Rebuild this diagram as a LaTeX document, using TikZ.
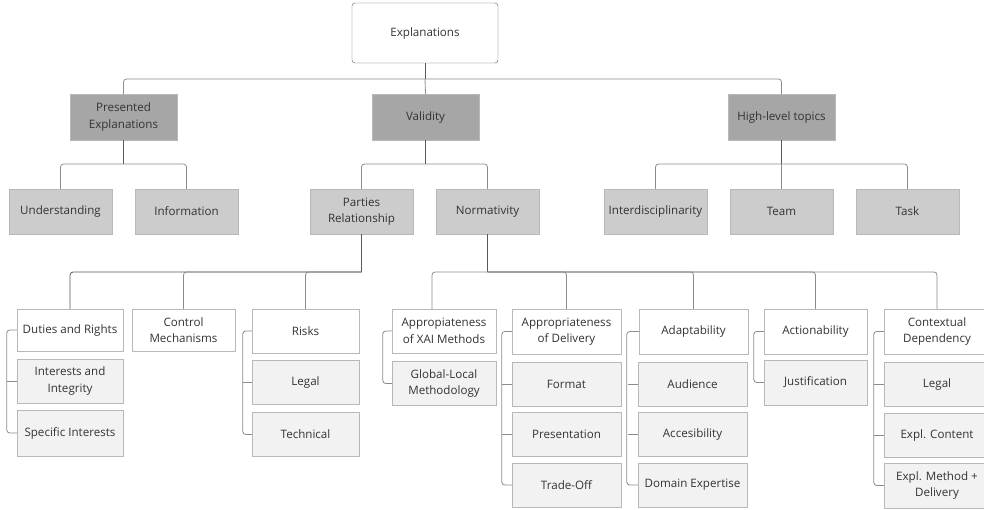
\documentclass[tikz,border=0pt]{standalone}
\usepackage{fontspec}
\setmainfont{Open Sans}
\definecolor{txtgray}{HTML}{333333}
\definecolor{topicgray}{HTML}{A6A6A6}
\definecolor{groupgray}{HTML}{CCCCCC}
\definecolor{subgray}{HTML}{F2F2F2}
\definecolor{edgegray}{HTML}{B8B8B8}
\begin{document}
\begin{tikzpicture}[x=1pt,y=-1pt,
  every node/.style={font=\fontsize{11.6}{16.5}\selectfont, text=txtgray, align=center, inner sep=0pt},
  rootbox/.style={draw=black!65, fill=white, rounded corners=3pt, minimum width=146pt, minimum height=60pt},
  topicbox/.style={draw=edgegray, fill=topicgray, minimum width=107pt, minimum height=46pt},
  groupbox/.style={draw=edgegray, fill=groupgray, minimum width=103pt, minimum height=45pt},
  headbox/.style={draw=edgegray, fill=white, minimum height=44pt},
  subbox/.style={draw=edgegray, fill=subgray, minimum height=44pt},
  stem/.style={draw=black!65, line width=.8pt},
  branch/.style={draw=black!45, line width=.8pt, rounded corners=3pt}]
\useasboundingbox (0,0) rectangle (984,509);
% top
\node[rootbox] (expl) at (425,33) {Explanations};
\node[topicbox] (pres) at (123.5,117) {Presented\\Explanations};
\node[topicbox] (valid) at (425.5,117) {Validity};
\node[topicbox] (high) at (781.5,117) {High-level topics};
\node[groupbox] (under) at (60.5,211.5) {Understanding};
\node[groupbox] (info) at (186.5,211.5) {Information};
\node[groupbox] (parties) at (361.5,211.5) {Parties\\Relationship};
\node[groupbox] (norm) at (487.5,211.5) {Normativity};
\node[groupbox] (inter) at (655.5,211.5) {Interdisciplinarity};
\node[groupbox] (team) at (781.5,211.5) {Team};
\node[groupbox] (task) at (907.5,211.5) {Task};
% parties relationship
\node[headbox, minimum width=106pt, minimum height=42pt] (duties) at (70,330) {Duties and Rights};
\node[subbox, minimum width=106pt] (interests) at (70,381) {Interests and\\Integrity};
\node[subbox, minimum width=106pt, minimum height=46pt] (specific) at (70,433) {Specific Interests};
\node[headbox, minimum width=103pt, minimum height=42pt] (control) at (183.5,330) {Control\\Mechanisms};
\node[headbox, minimum width=107pt] (risks) at (305.5,331) {Risks};
\node[subbox, minimum width=107pt] (legalr) at (305.5,382.5) {Legal};
\node[subbox, minimum width=107pt] (technical) at (305.5,434.5) {Technical};
% normativity
\node[headbox, minimum width=104pt] (xai) at (444,331) {Appropiateness\\of XAI Methods};
\node[subbox, minimum width=104pt] (global) at (444,383.5) {Global-Local\\Methodology};
\node[headbox, minimum width=109pt, minimum height=45pt] (delivery) at (566.5,331.5) {Appropriateness\\of Delivery};
\node[subbox, minimum width=109pt] (format) at (566.5,384) {Format};
\node[subbox, minimum width=109pt] (present) at (566.5,434.5) {Presentation};
\node[subbox, minimum width=109pt] (tradeoff) at (566.5,485) {Trade-Off};
\node[headbox, minimum width=109pt, minimum height=45pt] (adapt) at (693.5,331.5) {Adaptability};
\node[subbox, minimum width=109pt] (audience) at (692.5,384) {Audience};
\node[subbox, minimum width=109pt] (access) at (692.5,434.5) {Accesibility};
\node[subbox, minimum width=109pt] (domain) at (692.5,485) {Domain Expertise};
\node[headbox, minimum width=103pt, minimum height=45pt] (action) at (815.5,331.5) {Actionability};
\node[subbox, minimum width=103pt, minimum height=45pt] (justif) at (815.5,382.5) {Justification};
\node[headbox, minimum width=106pt, minimum height=45pt] (context) at (937,331.5) {Contextual\\Dependency};
\node[subbox, minimum width=106pt] (legalc) at (937,384) {Legal};
\node[subbox, minimum width=106pt] (content) at (937,435) {Expl. Content};
\node[subbox, minimum width=106pt, minimum height=45pt] (method) at (937,485.5) {Expl. Method +\\Delivery};
% bus points
\coordinate (explbus) at (425,79);
\coordinate (presbus) at (123.5,164);
\coordinate (validbus) at (425.5,164);
\coordinate (highbus) at (781.5,164);
\coordinate (partiesbus) at (361.5,272);
\coordinate (normbus) at (487.5,272);
% tree connectors
\draw[stem] (expl.south) -- (explbus);
\draw[branch] (explbus) -| (pres.north);
\draw[branch] (explbus) -| (high.north);
\draw[branch] (explbus) -- (valid.north);
\draw[stem] (pres.south) -- (presbus);
\draw[branch] (presbus) -| (under.north);
\draw[branch] (presbus) -| (info.north);
\draw[stem] (valid.south) -- (validbus);
\draw[branch] (validbus) -| (parties.north);
\draw[branch] (validbus) -| (norm.north);
\draw[stem] (high.south) -- (highbus);
\draw[branch] (highbus) -| (inter.north);
\draw[branch] (highbus) -| (task.north);
\draw[branch] (highbus) -- (team.north);
\draw[stem] (parties.south) -- (partiesbus);
\draw[stem, rounded corners=3pt] (partiesbus) -| (duties.north);
\draw[branch] (partiesbus) -| (control.north);
\draw[branch] (partiesbus) -| (risks.north);
\draw[stem] (norm.south) -- (normbus);
\draw[branch] (normbus) -| ([xshift=-12pt]xai.north);
\draw[branch] (normbus) -| (delivery.north);
\draw[branch] (normbus) -| (adapt.north);
\draw[branch] (normbus) -| (action.north);
\draw[branch] (normbus) -| (context.north);
% side brackets
\draw[branch] (duties.west) -- ++(-10,0) |- (specific.west);
\draw[branch] (interests.west) -- ++(-10,0);
\draw[branch] (risks.west) -- ++(-9,0) |- (technical.west);
\draw[branch] (legalr.west) -- ++(-9,0);
\draw[branch] (xai.west) -- ++(-9,0) |- (global.west);
\draw[branch] (delivery.west) -- ++(-10,0) |- (tradeoff.west);
\draw[branch] (format.west) -- ++(-10,0);
\draw[branch] (present.west) -- ++(-10,0);
\draw[branch] (adapt.west) -- ++(-12,0) |- (domain.west);
\draw[branch] (audience.west) -- ++(-10,0);
\draw[branch] (access.west) -- ++(-10,0);
\draw[branch] (action.west) -- ++(-10,0) |- (justif.west);
\draw[branch] (context.west) -- ++(-10,0) |- (method.west);
\draw[branch] (legalc.west) -- ++(-10,0);
\draw[branch] (content.west) -- ++(-10,0);
\end{tikzpicture}
\end{document}
